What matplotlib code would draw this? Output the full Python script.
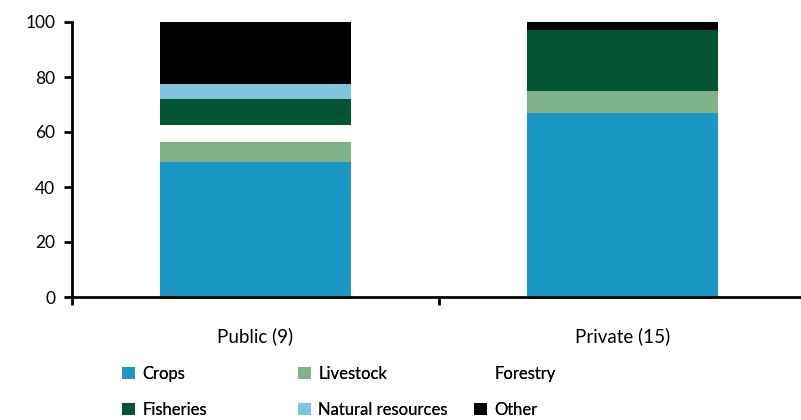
import matplotlib
matplotlib.use("Agg")
import matplotlib.pyplot as plt
from matplotlib.patches import Patch
import numpy as np

plt.rcParams['font.family'] = ['Lato', 'DejaVu Sans']

groups = ['Public (9)', 'Private (15)']
sectors = ['Crops', 'Livestock', 'Forestry', 'Fisheries', 'Natural resources', 'Other']
crops = [49, 67]
livestock = [7.5, 8]
forestry = [6, 0]
fisheries = [9.5, 22]
natural_resources = [5.5, 0]
other = [22.5, 3]

colors = ['#1a98c4', '#80b28a', '#ffffff', '#025432', '#82c4dd', '#000000']
series = [crops, livestock, forestry, fisheries, natural_resources, other]

fig = plt.figure(figsize=(8.01, 4.2), dpi=100)
ax = fig.add_axes([72 / 801, 1 - 297 / 420, 734 / 801, 275 / 420])

x = np.arange(len(groups))
bottom = np.zeros(len(groups))
for vals, col in zip(series, colors):
    ax.bar(x, vals, width=0.52, bottom=bottom, color=col, edgecolor='none', zorder=2)
    bottom += np.array(vals)

ax.set_xlim(-0.5, 1.5)
ax.set_ylim(0, 100)
ax.set_yticks([0, 20, 40, 60, 80, 100])
ax.tick_params(axis='y', labelsize=12.5, width=2, length=6, direction='out', pad=6)

# category boundaries carry the ticks, names sit under the bars
ax.set_xticks([-0.5, 0.5, 1.5])
ax.set_xticklabels([])
ax.tick_params(axis='x', which='major', width=2, length=6, direction='out')
ax.set_xticks(x, minor=True)
ax.set_xticklabels(groups, minor=True, fontsize=13.5)
ax.tick_params(axis='x', which='minor', length=0, pad=22)

for s in ['top', 'right']:
    ax.spines[s].set_visible(False)
for s in ['left', 'bottom']:
    ax.spines[s].set_linewidth(2)

# legend laid out as three evenly spaced columns
handles = [Patch(facecolor=c, edgecolor='none') for c in colors]
columns = [(0, 3), (1, 4), (2, 5)]
col_x = [122 / 801, 298 / 801, 474 / 801]
for (i, j), cx in zip(columns, col_x):
    leg = fig.legend([handles[i], handles[j]], [sectors[i], sectors[j]],
                     loc='upper left', bbox_to_anchor=(cx, 1 - 366 / 420),
                     frameon=False, fontsize=12, handlelength=0.75, handleheight=0.75,
                     handletextpad=0.45, labelspacing=1.2, borderpad=0, borderaxespad=0)
    fig.add_artist(leg)

fig.savefig('out.png', dpi=100)
